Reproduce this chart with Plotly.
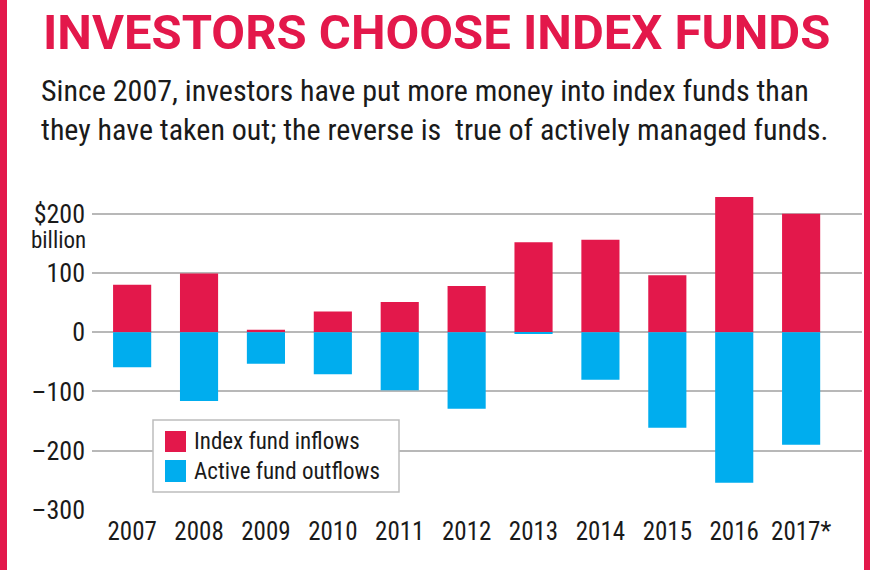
import plotly.graph_objects as go

years = ["2007", "2008", "2009", "2010", "2011", "2012", "2013", "2014", "2015", "2016", "2017*"]
index_inflows = [80, 99, 4, 35, 51, 78, 152, 156, 96, 228, 200]
active_outflows = [-59, -116, -53, -71, -98, -129, -3, -80, -161, -254, -190]
y_ticks = [200, 100, 0, -100, -200, -300]
y_tick_labels = ["$200", "100", "0", "\u2013100", "\u2013200", "\u2013300"]

RED = "#E3184B"
BLUE = "#00ADEE"
GRID = "#B8B8B8"
TXT = "#1a1a1a"
FONT = "Roboto Condensed"
TITLE_FONT = "Roboto"

W, H = 870, 570
L, R, T, B = 92, 8, 190, 60
PW, PH = W - L - R, H - T - B


def px(x):
    return (x - L) / PW


def py(y):
    return (H - B - y) / PH


fig = go.Figure()
fig.add_trace(go.Bar(x=years, y=index_inflows, name="Index fund inflows",
                     marker=dict(color=RED, line=dict(width=0)), showlegend=False))
fig.add_trace(go.Bar(x=years, y=active_outflows, name="Active fund outflows",
                     marker=dict(color=BLUE, line=dict(width=0)), showlegend=False))

shapes = [
    dict(type="rect", xref="paper", yref="paper", x0=px(153), x1=px(399), y0=py(492), y1=py(420),
         line=dict(color="#BDBDBD", width=1.5), fillcolor="white", layer="above"),
    dict(type="rect", xref="paper", yref="paper", x0=px(165), x1=px(186), y0=py(452), y1=py(431),
         line=dict(width=0), fillcolor=RED, layer="above"),
    dict(type="rect", xref="paper", yref="paper", x0=px(165), x1=px(186), y0=py(482), y1=py(460),
         line=dict(width=0), fillcolor=BLUE, layer="above"),
    dict(type="rect", xref="paper", yref="paper", x0=px(0), x1=px(7), y0=py(570), y1=py(0),
         line=dict(width=0), fillcolor=RED, layer="above"),
    dict(type="rect", xref="paper", yref="paper", x0=px(864), x1=px(870), y0=py(570), y1=py(0),
         line=dict(width=0), fillcolor=RED, layer="above"),
]

annotations = [
    dict(text="INVESTORS CHOOSE INDEX FUNDS", xref="paper", yref="paper", x=px(436), y=py(33),
         xanchor="center", yanchor="middle", showarrow=False,
         font=dict(family=TITLE_FONT, size=49, color=RED, weight="bold")),
    dict(text="Since 2007, investors have put more money into index funds than", xref="paper", yref="paper",
         x=px(39), y=py(90), xanchor="left", yanchor="middle", showarrow=False,
         font=dict(family=FONT, size=30, color=TXT)),
    dict(text="they have taken out; the reverse is  true of actively managed funds.", xref="paper", yref="paper",
         x=px(39), y=py(129), xanchor="left", yanchor="middle", showarrow=False,
         font=dict(family=FONT, size=30, color=TXT)),
    dict(text="billion", xref="paper", yref="paper", x=px(88), y=py(240), xanchor="right", yanchor="middle",
         showarrow=False, font=dict(family=FONT, size=23, color=TXT)),
    dict(text="Index fund inflows", xref="paper", yref="paper", x=px(192), y=py(441), xanchor="left",
         yanchor="middle", showarrow=False, font=dict(family=FONT, size=23, color=TXT)),
    dict(text="Active fund outflows", xref="paper", yref="paper", x=px(192), y=py(471), xanchor="left",
         yanchor="middle", showarrow=False, font=dict(family=FONT, size=23, color=TXT)),
]

fig.update_layout(
    width=W, height=H,
    margin=dict(l=L, r=R, t=T, b=B, pad=0),
    paper_bgcolor="white", plot_bgcolor="white",
    barmode="relative", bargap=0.43,
    shapes=shapes, annotations=annotations,
    font=dict(family=FONT, color=TXT),
)
fig.update_xaxes(type="category", range=[-0.6, 10.91], showgrid=False, zeroline=False, showline=False,
                 ticks="", tickfont=dict(family=FONT, size=25, color=TXT), ticklabelstandoff=4)
fig.update_yaxes(range=[-300, 240], tickvals=y_ticks, ticktext=y_tick_labels, showgrid=True,
                 gridcolor=GRID, gridwidth=2, zeroline=True, zerolinecolor=GRID, zerolinewidth=2,
                 showline=False, ticks="", tickfont=dict(family=FONT, size=26, color=TXT),
                 ticklabelstandoff=6)

fig.write_html("out.html", config={"displayModeBar": False},
               post_script="document.body.style.margin='0';")
